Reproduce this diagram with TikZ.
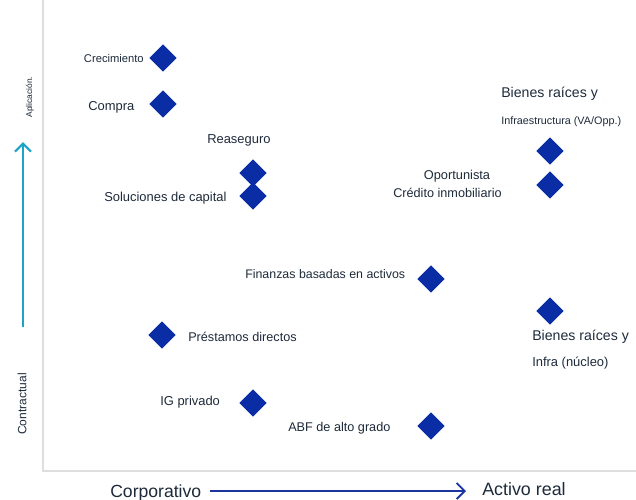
\documentclass[tikz,border=0pt]{standalone}
\usepackage{fontspec}
\setmainfont{Liberation Sans}
\usetikzlibrary{shapes.geometric,arrows.meta}
\definecolor{dia}{HTML}{0A2DA6}
\definecolor{txt}{HTML}{1E2A3A}
\definecolor{cyanarrow}{HTML}{1BA3C8}
\definecolor{bluearrow}{HTML}{1A35A0}
\definecolor{axisgray}{HTML}{DEDEDE}
\tikzset{
  dmark/.style={shape=diamond,aspect=1,fill=dia,inner sep=0pt,minimum size=20.5pt},
  lbl/.style={text=txt,inner sep=0pt,font=\fontsize{9.5}{11}\selectfont},
  axisline/.style={draw=axisgray,line width=1.5pt}
}
\begin{document}
\begin{tikzpicture}[x=0.75pt,y=-0.75pt]
\useasboundingbox (0,0) rectangle (636,500);
% axes
\coordinate (ytop) at (43,0);
\coordinate (origin) at (43,471);
\coordinate (xend) at (636,471);
\draw[axisline] (ytop) -- (origin) -- (xend);
% vertical cyan arrow
\coordinate (vb) at (23,327);
\coordinate (vt) at (23,142);
\draw[cyanarrow,line width=1.7pt,-{Straight Barb[length=6pt,width=12pt,line width=1.7pt]}] (vb) -- (vt);
% axis labels
\node[lbl,rotate=90,font=\fontsize{9}{10}\selectfont] (contr) at (22,404) {Contractual};
\node[lbl,rotate=90,font=\fontsize{6.3}{7}\selectfont,text=txt!85!black] (apl) at (30,97) {Aplicación.};
\node[lbl,anchor=west,font=\fontsize{13.2}{15}\selectfont] (corp) at (110,493) {Corporativo};
\node[lbl,anchor=west,font=\fontsize{13.4}{15}\selectfont] (activo) at (482,489) {Activo real};
\draw[bluearrow,line width=1.4pt,-{Straight Barb[length=6pt,width=12pt,line width=1.4pt]}] (corp.east) ++(8,-2) coordinate (ha) -- (466,491) coordinate (hb);
% diamonds
\node[dmark] (d1) at (163,58) {};
\node[dmark] (d2) at (163,104) {};
\node[dmark] (d3) at (253,173) {};
\node[dmark] (d4) at (253,196) {};
\node[dmark] (d5) at (550,151) {};
\node[dmark] (d6) at (550,185) {};
\node[dmark] (d7) at (431,279) {};
\node[dmark] (d8) at (550,311) {};
\node[dmark] (d9) at (162,335) {};
\node[dmark] (d10) at (253,403) {};
\node[dmark] (d11) at (431,426) {};
% labels
\node[lbl,anchor=east,font=\fontsize{8.4}{10}\selectfont] (l1) at (144,58) {Crecimiento};
\node[lbl,anchor=west,font=\fontsize{9.7}{11}\selectfont] (l2) at (88,107) {Compra};
\node[lbl,anchor=west,font=\fontsize{9.7}{11}\selectfont] (l3) at (207,140) {Reaseguro};
\node[lbl,anchor=west,font=\fontsize{9.7}{11}\selectfont] (l4) at (104,198) {Soluciones de capital};
\node[lbl,anchor=west,font=\fontsize{10.6}{12}\selectfont] (l5a) at (501,94) {Bienes raíces y};
\node[lbl,anchor=west,font=\fontsize{8.1}{9}\selectfont] (l5b) at (501,122) {Infraestructura (VA/Opp.)};
\node[lbl,font=\fontsize{9.6}{11}\selectfont] (l6a) at (457,176) {Oportunista};
\node[lbl,anchor=west,font=\fontsize{9.5}{11}\selectfont] (l6b) at (393,193) {Crédito inmobiliario};
\node[lbl,anchor=west,font=\fontsize{9.3}{11}\selectfont] (l7) at (245,274) {Finanzas basadas en activos};
\node[lbl,anchor=west,font=\fontsize{10.6}{12}\selectfont] (l8a) at (532,337) {Bienes raíces y};
\node[lbl,anchor=west,font=\fontsize{9.7}{11}\selectfont] (l8b) at (532,363) {Infra (núcleo)};
\node[lbl,anchor=west,font=\fontsize{9.5}{11}\selectfont] (l9) at (188,337) {Préstamos directos};
\node[lbl,anchor=west,font=\fontsize{9.7}{11}\selectfont] (l10) at (160,402) {IG privado};
\node[lbl,anchor=west,font=\fontsize{9.5}{11}\selectfont] (l11) at (288,428) {ABF de alto grado};
\end{tikzpicture}
\end{document}
